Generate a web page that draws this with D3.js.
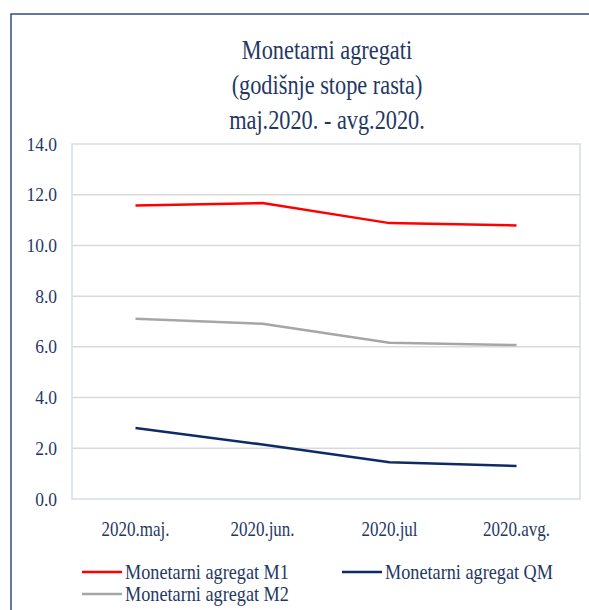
<!DOCTYPE html>
<meta charset="utf-8">
<style>
body { margin: 0; background: #fff; }
svg text { font-family: "Liberation Serif", "Times New Roman", serif; fill: #1f3864; }
</style>
<svg id="chart" width="589" height="610"></svg>
<script src="https://cdn.jsdelivr.net/npm/d3@7/dist/d3.min.js"></script>
<script>

const months = ["2020.maj.", "2020.jun.", "2020.jul", "2020.avg."];
const m1 = [11.57, 11.67, 10.88, 10.79];
const m2 = [7.11, 6.91, 6.16, 6.07];
const qm = [2.80, 2.15, 1.45, 1.30];
const yTicks = [0, 2, 4, 6, 8, 10, 12, 14];
const titleLines = ["Monetarni agregati", "(godišnje stope rasta)", "maj.2020. - avg.2020."];

const series = [
  { name: "Monetarni agregat M1", values: m1, color: "#ff0000" },
  { name: "Monetarni agregat M2", values: m2, color: "#a6a6a6" },
  { name: "Monetarni agregat QM", values: qm, color: "#0f2b66" }
];

const plotLeft = 72, plotRight = 580, plotTop = 144, plotBottom = 499;

const svg = d3.select("#chart");

// outer frame, cut off on the right and bottom
svg.append("rect")
    .attr("x", 11).attr("y", 14)
    .attr("width", 620).attr("height", 640)
    .attr("fill", "none")
    .attr("stroke", "#2f4d85")
    .attr("stroke-width", 1.5);

// title
svg.append("g").selectAll("text")
    .data(titleLines)
  .enter().append("text")
    .attr("transform", (d, i) => "translate(327," + (59 + i * 35) + ") scale(0.97,1.18)")
    .attr("text-anchor", "middle")
    .style("font-size", "23px")
    .text(d => d);

const x = d3.scaleBand().domain(months).range([plotLeft, plotRight]);
const y = d3.scaleLinear().domain([0, 14]).range([plotBottom, plotTop]);

// gridlines
svg.append("g").selectAll("line")
    .data(yTicks.slice(1, -1))
  .enter().append("line")
    .attr("x1", plotLeft).attr("x2", plotRight)
    .attr("y1", d => y(d)).attr("y2", d => y(d))
    .attr("stroke", "#d9d9d9")
    .attr("stroke-width", 1.5);

// plot frame
svg.append("rect")
    .attr("x", plotLeft).attr("y", plotTop)
    .attr("width", plotRight - plotLeft).attr("height", plotBottom - plotTop)
    .attr("fill", "none")
    .attr("stroke", "#d6dce5")
    .attr("stroke-width", 1.5);

// y axis
const yAxis = svg.append("g")
    .attr("transform", "translate(" + plotLeft + ",0)")
    .call(d3.axisLeft(y).tickValues(yTicks).tickFormat(d3.format(".1f")).tickSize(0).tickPadding(0));
yAxis.select(".domain").remove();
yAxis.selectAll("text")
    .attr("fill", null)
    .attr("x", null).attr("dy", null)
    .attr("transform", "translate(-15,6) scale(1,1.12)")
    .style("font-size", "17.5px");

// x axis
const xAxis = svg.append("g")
    .attr("transform", "translate(0," + plotBottom + ")")
    .call(d3.axisBottom(x).tickSize(0).tickPadding(0));
xAxis.select(".domain").remove();
xAxis.selectAll("text")
    .attr("fill", null)
    .attr("y", null).attr("dy", null)
    .attr("transform", "translate(0,37) scale(1,1.2)")
    .style("font-size", "17px");

// lines
const line = d3.line()
    .x((d, i) => x(months[i]) + x.bandwidth() / 2)
    .y(d => y(d));

svg.append("g").selectAll("path")
    .data(series)
  .enter().append("path")
    .attr("d", d => line(d.values))
    .attr("fill", "none")
    .attr("stroke", d => d.color)
    .attr("stroke-width", 2.5)
    .attr("stroke-linejoin", "round");

// legend
const legendPos = [[82, 572], [82, 594], [342, 572]];
const legend = svg.append("g").selectAll("g")
    .data(series)
  .enter().append("g")
    .attr("transform", (d, i) => "translate(" + legendPos[i][0] + "," + legendPos[i][1] + ")");

legend.append("line")
    .attr("x1", 0).attr("x2", 40)
    .attr("stroke", d => d.color)
    .attr("stroke-width", 2.5);

legend.append("text")
    .attr("transform", "translate(43,7) scale(0.96,1.12)")
    .style("font-size", "19px")
    .text(d => d.name);

</script>
